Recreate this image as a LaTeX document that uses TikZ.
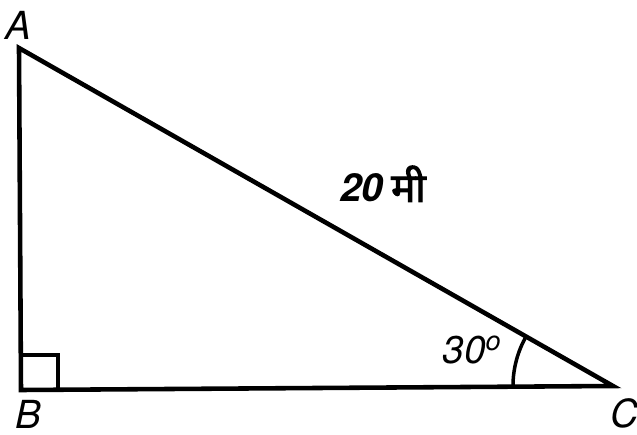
\documentclass[tikz,border=0pt]{standalone}
\usepackage{fontspec}
\newfontfamily\helvit{TeX Gyre Heros}
\newfontfamily\devfont[Script=Devanagari, FakeBold=2.5]{Noto Sans}
\usetikzlibrary{positioning,calc}
\tikzset{
  edge/.style={line width=2.6pt, line join=miter, line cap=round},
  marker/.style={line width=2pt},
  vlabel/.style={font=\helvit\itshape\fontsize{22}{24}\selectfont, inner sep=0pt},
  anglabel/.style={font=\helvit\itshape\fontsize{22}{24}\selectfont, inner sep=0pt},
  sidelabel/.style={inner sep=0pt}
}
\begin{document}
\begin{tikzpicture}[x=0.2mm, y=-0.2mm]
      \useasboundingbox (0,0) rectangle (637,435);
      \coordinate (A) at (19,48);
      \coordinate (B) at (21,390);
      \coordinate (C) at (613,386);
      \draw[edge] (A) -- (B) -- (C) -- cycle;
      \draw[marker] ($(B)+(0,-35)$) -- ++(37,0) -- ++(0,35);
      \draw[marker] ($(C)+(-100,0)$) arc[start angle=180, end angle=210, radius=100];
      \node[vlabel] (la) [above=1.6mm of A, xshift=-0.2mm] {A};
      \node[vlabel] (lb) [below=2.0mm of B, xshift=1.4mm] {B};
      \node[vlabel] (lc) [below=2.4mm of C, xshift=2.2mm] {C};
      \node[anglabel] (ang) at (472,350) {30\textsuperscript{o}};
      \node[sidelabel] (side) at (383,184) {{\helvit\itshape\bfseries\fontsize{22}{24}\selectfont 20}\hspace{1.6mm}{\devfont\fontsize{23}{26}\selectfont मी}};
    \end{tikzpicture}
\end{document}
